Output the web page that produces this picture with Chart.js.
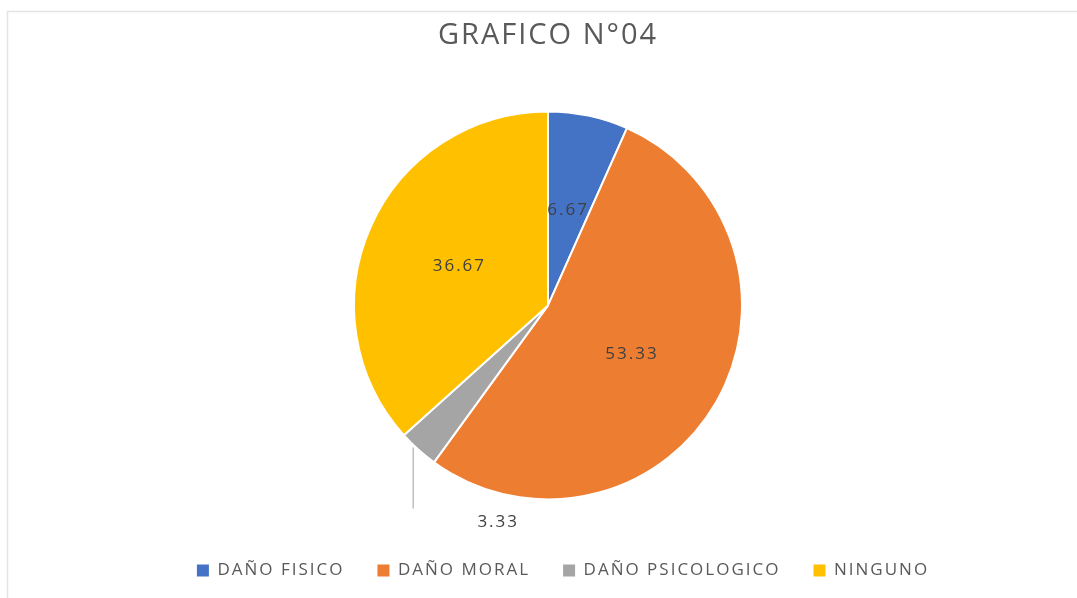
<!DOCTYPE html>
<html>
<head>
<meta charset="utf-8">
<script src="https://cdn.jsdelivr.net/npm/chart.js@4/dist/chart.umd.min.js"></script>
<style>
html,body{margin:0;padding:0;background:#fff;}
#wrap{width:1077px;height:598px;position:relative;}
</style>
</head>
<body>
<div id="wrap"><canvas id="c" width="1077" height="598"></canvas></div>
<script>
const titleText = 'GRAFICO N°04';
const categories = ['DAÑO FISICO', 'DAÑO MORAL', 'DAÑO PSICOLOGICO', 'NINGUNO'];
const values = [6.67, 53.33, 3.33, 36.67];
const colors = ['#4472C4', '#ED7D31', '#A5A5A5', '#FFC000'];

const FONT = "'Open Sans', 'Liberation Sans', sans-serif";
const SPACING = '2px';

const framePlugin = {
  id: 'frame',
  beforeLayout(chart) {
    chart.ctx.letterSpacing = SPACING;
  },
  afterLayout(chart) {
    const lg = chart.legend;
    if (lg) { lg.left += 15; lg.right += 15; }
  },
  beforeDraw(chart) {
    const ctx = chart.ctx;
    ctx.letterSpacing = SPACING;
    ctx.save();
    ctx.strokeStyle = '#E4E4E4';
    ctx.lineWidth = 1.5;
    ctx.beginPath();
    ctx.moveTo(7.5, chart.height);
    ctx.lineTo(7.5, 11.5);
    ctx.lineTo(chart.width, 11.5);
    ctx.stroke();
    ctx.restore();
  }
};

const labelPlugin = {
  id: 'sliceLabels',
  afterDatasetsDraw(chart) {
    const ctx = chart.ctx;
    const meta = chart.getDatasetMeta(0);
    const data = chart.data.datasets[0].data;
    ctx.save();
    ctx.letterSpacing = SPACING;
    ctx.font = '17px ' + FONT;
    ctx.fillStyle = '#404040';
    ctx.textAlign = 'center';
    ctx.textBaseline = 'middle';
    meta.data.forEach((arc, i) => {
      const v = data[i];
      const txt = v.toFixed(2);
      if (v >= 5) {
        const p = arc.tooltipPosition();
        ctx.fillText(txt, p.x, p.y);
      } else {
        const mid = (arc.startAngle + arc.endAngle) / 2;
        const ex = arc.x + Math.cos(mid) * arc.outerRadius - 5;
        const ey = arc.y + Math.sin(mid) * arc.outerRadius;
        ctx.strokeStyle = '#BFBFBF';
        ctx.lineWidth = 1.5;
        ctx.beginPath();
        ctx.moveTo(ex, ey - 2);
        ctx.lineTo(ex, ey + 59);
        ctx.stroke();
        ctx.fillText(txt, ex + 85, ey + 73);
      }
    });
    ctx.restore();
  }
};

new Chart(document.getElementById('c'), {
  type: 'pie',
  data: {
    labels: categories,
    datasets: [{
      data: values,
      backgroundColor: colors,
      borderColor: '#FFFFFF',
      borderWidth: 2,
      radius: 194
    }]
  },
  options: {
    responsive: false,
    animation: false,
    layout: { padding: { left: 19, right: 0, top: 0, bottom: 9 } },
    plugins: {
      title: {
        display: true,
        text: titleText,
        color: '#595959',
        font: { family: FONT, size: 29, weight: 'normal' },
        padding: { top: 18, bottom: 29 }
      },
      legend: {
        position: 'bottom',
        labels: {
          boxWidth: 12,
          boxHeight: 12,
          padding: 33,
          color: '#595959',
          font: { family: FONT, size: 17 },
          generateLabels(chart) {
            const base = Chart.overrides.pie.plugins.legend.labels.generateLabels(chart);
            return base.map(l => Object.assign(l, { lineWidth: 0, strokeStyle: l.fillStyle }));
          }
        }
      },
      tooltip: { enabled: false }
    }
  },
  plugins: [framePlugin, labelPlugin]
});
</script>
</body>
</html>
